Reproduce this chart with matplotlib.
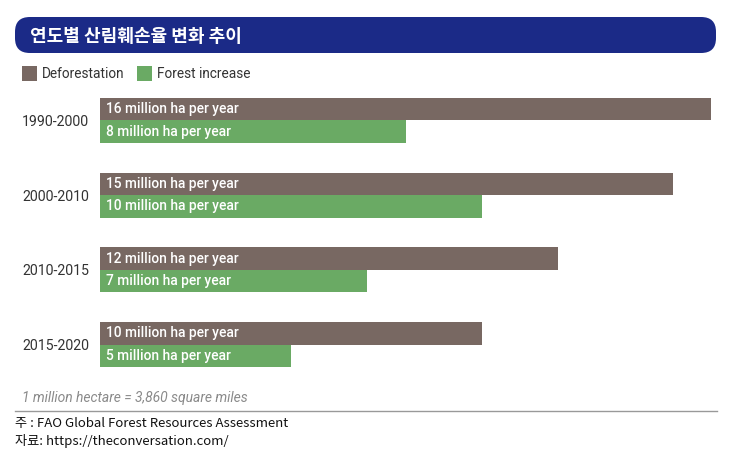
import matplotlib.pyplot as plt
from matplotlib.patches import FancyBboxPatch, Rectangle
from matplotlib.lines import Line2D

periods = ['1990-2000', '2000-2010', '2010-2015', '2015-2020']
deforestation = [16, 15, 12, 10]
forest_increase = [8, 10, 7, 5]
series_names = ['Deforestation', 'Forest increase']

title = '연도별 산림훼손율 변화 추이'
footnote = '1 million hectare = 3,860 square miles'
source_lines = ['주 : FAO Global Forest Resources Assessment',
                '자료: https://theconversation.com/']

brown = '#786862'
green = '#6aaa64'
navy = '#1b2a87'

W, H = 742, 463
fig = plt.figure(figsize=(W / 100, H / 100), dpi=100)


def fx(px):
    return px / W


def fy(py):
    return 1 - py / H


# title banner
fig.patches.append(FancyBboxPatch((fx(15), fy(53)), fx(716) - fx(15), fy(17) - fy(53),
                                  boxstyle='round,pad=0,rounding_size=0.02',
                                  transform=fig.transFigure, facecolor=navy,
                                  edgecolor='none', mutation_aspect=W / H))
fig.text(fx(30), fy(36), title, color='white', fontsize=13.0, fontweight='bold',
         family=['Noto Sans CJK KR', 'DejaVu Sans'], va='center', ha='left')

# legend
for i, (name, col) in enumerate(zip(series_names, [brown, green])):
    x0 = [22, 137][i]
    fig.patches.append(Rectangle((fx(x0), fy(81)), fx(15), fy(66) - fy(81),
                                 transform=fig.transFigure, facecolor=col, edgecolor='none'))
    fig.text(fx(x0 + 20), fy(74), name, color='#333333', fontsize=9.8,
             family='Roboto', va='center', ha='left')

# bars
ax = fig.add_axes([fx(100), fy(375), fx(711) - fx(100), fy(90) - fy(375)])
bh = 0.302
ys = list(range(len(periods)))
ax.barh([y - bh / 2 for y in ys], deforestation, height=bh, color=brown)
ax.barh([y + bh / 2 for y in ys], forest_increase, height=bh, color=green)
for y, d, f in zip(ys, deforestation, forest_increase):
    ax.text(0.15, y - bh / 2, f'{d} million ha per year', color='white', fontsize=9.9,
            family='Roboto', fontweight='medium', va='center', ha='left')
    ax.text(0.15, y + bh / 2, f'{f} million ha per year', color='white', fontsize=9.9,
            family='Roboto', fontweight='medium', va='center', ha='left')
ax.set_xlim(0, 16)
ax.set_ylim(3.408, -0.408)
ax.set_yticks(ys)
ax.set_yticklabels(periods, fontsize=10.2, family='Roboto', color='#333333')
ax.tick_params(axis='y', length=0, pad=8)
ax.set_xticks([])
for s in ax.spines.values():
    s.set_visible(False)

# footnote and source
fig.text(fx(22), fy(398), footnote, color='#8a8a8a', fontsize=10, style='italic',
         family='Roboto', va='center', ha='left')
fig.add_artist(Line2D([fx(15), fx(717)], [fy(411), fy(411)], transform=fig.transFigure,
                      color='#999999', linewidth=1))
for i, line in enumerate(source_lines):
    fig.text(fx(15), fy(423 + 18 * i), line, color='#111111', fontsize=9.5,
             family=['Noto Sans CJK KR', 'DejaVu Sans'], fontweight='light',
             va='center', ha='left')

fig.savefig('out.png', dpi=100)
